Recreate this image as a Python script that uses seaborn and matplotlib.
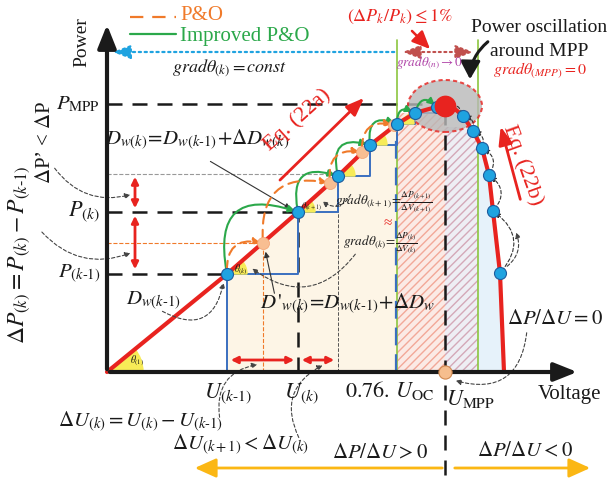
import numpy as np
import pandas as pd
import seaborn as sns
import matplotlib
matplotlib.use("Agg")
import matplotlib.pyplot as plt
from matplotlib.patches import FancyArrowPatch, Ellipse, Wedge

# ---------------- data (diagram units: voltage, power) ----------------
curve_v = [0, 120, 191, 231, 263, 290, 308, 322, 330, 338, 348, 356, 366, 375, 382, 386, 393, 397]
curve_p = [0, 98, 160, 196, 227, 248, 259, 263, 265, 266, 263, 256, 241, 224, 197, 161, 99, 0]
blue_v = [120, 191, 231, 263, 290, 308, 330]
blue_p = [98, 160, 196, 227, 248, 259, 265]
orange_v = [156, 223, 255, 287]
orange_p = [129, 189, 220, 247]
right_v = [356, 366, 375, 382, 386, 393]
right_p = [256, 241, 224, 197, 161, 99]
mpp_v = [338]
mpp_p = [266]
v_076 = 290
v_green2 = 371
x_tick_labels = [r"$U_{(k\text{-}1)}$", r"$U_{(k)}$", r"$\mathit{0.76.}\,U_{\rm OC}$", r"$U_{\rm MPP}$"]

sns.set_theme(style="white")
plt.rcParams["font.family"] = ["Liberation Serif", "DejaVu Serif"]
plt.rcParams["mathtext.fontset"] = "stix"

fig = plt.figure(figsize=(6.11, 4.8), dpi=100)
ax = fig.add_axes([0, 0, 1, 1])
ax.set_xlim(-107, 504)
ax.set_ylim(-108, 372)
ax.axis("off")

def P(px, py):
    return (px - 107, 372 - py)

RED = "#E8231F"
GREEN = "#2BA84A"
ORANGE = "#F07A2A"
BLUE = "#1FA3E0"
SBLUE = "#3A6FBF"

def arr(p1, p2, style="-|>", color="k", lw=1.0, ls="-", rad=0.0, ms=10, z=5, data=False):
    a = p1 if data else P(*p1)
    b = p2 if data else P(*p2)
    ax.add_patch(FancyArrowPatch(a, b, arrowstyle=style, color=color, lw=lw, linestyle=ls,
                                 connectionstyle=f"arc3,rad={rad}", mutation_scale=ms, zorder=z))

def txt(px, py, s, size=15, color="k", ha="center", va="center", rot=0, **kw):
    x, y = P(px, py)
    ax.text(x, y, s, size=size, color=color, ha=ha, va=va, rotation=rot, rotation_mode="anchor", zorder=8, **kw)

cv = np.array(curve_v); cp = np.array(curve_p)
# ---------------- shaded regions ----------------
m = (cv >= blue_v[0]) & (cv <= v_076)
ax.fill_between(cv[m], 0, cp[m], color="#FDF5E6", zorder=0)
ax.fill_between([v_076, mpp_v[0]], 0, 259, facecolor="#FBEAE5", edgecolor="#F2A898", hatch="////", lw=0, zorder=0)
ax.fill_between([mpp_v[0], v_green2], 0, 245, facecolor="#EEEEF4", edgecolor="#D4A8B8", hatch="////", lw=0, zorder=0)
mr = cv >= v_green2
ax.fill_between(np.r_[v_green2, cv[mr]], 0, np.r_[240, cp[mr]], color="#E6F2FA", zorder=0)

# ---------------- guide lines ----------------
dash = dict(color="k", lw=1.8, dashes=(6, 4), zorder=2)
ax.plot([0, blue_v[0]], [blue_p[0]] * 2, **dash)
ax.plot([0, blue_v[1]], [blue_p[1]] * 2, **dash)
ax.plot([0, 330], [mpp_p[0] + 2] * 2, **dash)
ax.plot([blue_v[1]] * 2, [0, blue_p[1]], **dash)
ax.plot([mpp_v[0]] * 2, [-103, mpp_p[0]], **dash)
ax.plot([0, blue_v[2]], [blue_p[2] + 2] * 2, color="#999999", lw=0.8, ls="--", zorder=2)
ax.plot([blue_v[2]] * 2, [0, blue_p[2]], color="#555555", lw=0.7, ls="--", zorder=2)
ax.plot([0, orange_v[0]], [orange_p[0]] * 2, color=ORANGE, lw=0.8, ls="--", zorder=2)
ax.plot([orange_v[0]] * 2, [0, orange_p[0]], color=ORANGE, lw=0.8, ls="--", zorder=2)
ax.plot([v_076] * 2, [0, 332], color="#8CC63F", lw=1.2, zorder=3)
ax.plot([v_green2] * 2, [0, 332], color="#8CC63F", lw=1.2, zorder=3)
ax.plot([v_076 - 1] * 2, [0, 248], color=SBLUE, lw=1.6, dashes=(8, 4), zorder=3)

# staircase
sns.lineplot(x=blue_v, y=blue_p, drawstyle="steps-post", color=SBLUE, lw=1.4, ax=ax, zorder=3, sort=False)
ax.plot([0, blue_v[0], blue_v[0]], [1, 1, blue_p[0]], color=SBLUE, lw=1.4, zorder=3)

# ellipse
ax.add_patch(Ellipse((mpp_v[0], mpp_p[0]), 74, 52, facecolor="#B8B8B8", alpha=0.8,
                     edgecolor=RED, ls=(0, (2, 1.5)), lw=1.5, zorder=4))

# ---------------- PV curve ----------------
sns.lineplot(x=curve_v, y=curve_p, color=RED, lw=3, sort=False, ax=ax, zorder=5)

# yellow angle wedges
ax.add_patch(Wedge((0, 0), 36, 0, 40, color="#F7EB57", zorder=4))
for v, p in zip(blue_v[:5], blue_p[:5]):
    ax.add_patch(Wedge((v, p), 20 if v == blue_v[0] else 17, 0, 40, color="#F7EB57", zorder=4))

# arcs: improved P&O (green) and P&O (orange dashed)
for i in range(len(blue_v) - 1):
    arr((blue_v[i], blue_p[i]), (blue_v[i + 1], blue_p[i + 1]), color=GREEN, lw=1.5, rad=-0.85, ms=10, z=6, data=True)
seq = [(blue_v[0], blue_p[0])] + list(zip(orange_v, orange_p))
for i in range(len(seq) - 1):
    arr(seq[i], seq[i + 1], color=ORANGE, lw=1.5, ls=(0, (5, 3)), rad=-0.65, ms=10, z=6, data=True)
# right side dashed arcs
rs = [(mpp_v[0], mpp_p[0])] + list(zip(right_v, right_p))
for i in range(len(rs) - 1):
    arr(rs[i + 1], rs[i], color="#333333", lw=0.8, ls=(0, (3, 2)), rad=0.55, ms=7, z=6, data=True)

# points
sns.scatterplot(x=orange_v, y=orange_p, s=75, color="#F8BE92", edgecolor="#F4A070", linewidth=0.5, ax=ax, zorder=7)
sns.scatterplot(x=blue_v + right_v, y=blue_p + right_p, s=75, color=BLUE, edgecolor="#1E5C9E", linewidth=0.8, ax=ax, zorder=7)
sns.scatterplot(x=mpp_v, y=mpp_p, s=210, color=RED, edgecolor=RED, ax=ax, zorder=7)
sns.scatterplot(x=mpp_v, y=[0], s=90, color="#F6BE8E", edgecolor="#D08850", linewidth=0.8, ax=ax, zorder=9)

# ---------------- axes ----------------
arr((107, 372), (580, 372), style="-|>,head_length=1.0,head_width=0.4", lw=3, ms=14, z=8)
arr((107, 372), (107, 22), style="-|>,head_length=1.0,head_width=0.4", lw=3, ms=14, z=8)

# ---------------- arrows ----------------
arr((397, 52), (110, 52), style="-|>,head_length=0.9,head_width=0.35", color=BLUE, ls=":", lw=1.6, ms=12)
arr((400, 52), (476, 52), style="<|-|>,head_length=0.9,head_width=0.35", color="#C0504D", ls=":", lw=1.5, ms=12)
arr((410, 29), (432, 51), style="-|>,head_length=0.9,head_width=0.4", color=RED, lw=1.8, ms=12)
arr((135, 174), (135, 211), style="<|-|>", color=RED, lw=2, ms=10)
arr((135, 213), (135, 272), style="<|-|>", color=RED, lw=2, ms=10)
arr((228, 360), (297, 360), style="<|-|>", color=RED, lw=2, ms=10)
arr((299, 360), (337, 360), style="<|-|>", color=RED, lw=2, ms=10)
arr((278, 182), (366, 96), style="-|>,head_length=0.9,head_width=0.35", color=RED, lw=2, ms=12)
arr((521, 202), (500, 124), style="-|>,head_length=0.9,head_width=0.35", color=RED, lw=2, ms=12)
arr((490, 40), (470, 82), style="-|>,head_length=0.9,head_width=0.5", color="k", lw=2.2, rad=0.25, ms=12)
arr((445, 468), (192, 468), style="-|>,head_length=1.0,head_width=0.45", color="#FBB714", lw=2, ms=13)
arr((452, 468), (593, 468), style="-|>,head_length=1.0,head_width=0.45", color="#FBB714", lw=2, ms=13)
# thin pointer arrows
arr((208, 160), (293, 210), color="#333333", lw=0.8, ms=8)
arr((275, 296), (265, 249), color="#333333", lw=0.8, ms=8)
g = dict(color="#444444", lw=0.8, ls=(0, (3, 2)), ms=8)
arr((53, 166), (133, 194), rad=0.35, **g)
arr((40, 230), (133, 252), rad=0.35, **g)
arr((160, 310), (224, 280), rad=0.7, **g)
arr((352, 192), (320, 200), rad=-0.6, **g)
arr((357, 252), (250, 267), rad=-0.5, **g)
arr((220, 420), (260, 364), rad=-0.5, **g)
arr((300, 440), (325, 364), rad=-0.5, **g)
arr((527, 330), (453, 380), rad=-0.6, **g)
arr((505, 268), (515, 230), rad=0.4, **g)

# ---------------- texts ----------------
ax.plot([P(130, 17)[0], P(176, 17)[0]], [P(130, 17)[1]] * 2, color=ORANGE, lw=1.6, dashes=(6, 4))
ax.plot([P(130, 34)[0], P(176, 34)[0]], [P(130, 34)[1]] * 2, color=GREEN, lw=1.6)
txt(180, 16, "P&O", 15, ORANGE, ha="left")
txt(180, 37, "Improved P&O", 15, GREEN, ha="left")
txt(82, 42, "Power", 14, rot=90)
txt(230, 68, r"$grad\theta_{(k)} = const$", 13)
txt(400, 17, r"$(\Delta P_k/P_k) \leq 1\%$", 13, RED)
txt(430, 63, r"$grad\theta_{(n)} \rightarrow 0$", 9.5, "#B044A8")
txt(539, 27, "Power oscillation", 14)
txt(539, 51, "around MPP", 14)
txt(540, 70, r"$grad\theta_{(MPP)} = 0$", 11.5, RED)
txt(100, 104, r"$P_{\rm MPP}$", 15, ha="right")
txt(100, 212, r"$P_{(k)}$", 16, ha="right")
txt(100, 274, r"$P_{(k\text{-}1)}$", 15, ha="right")
txt(46, 142, r"$\Delta$P’ < $\Delta$P", 15, rot=90)
txt(19, 255, r"$\Delta P_{(k)} = P_{(k)} - P_{(k\text{-}1)}$", 17, rot=90)
txt(197, 140, r"$D_{w(k)}\!=\!D_{w(k\text{-}1)}\!+\!\Delta D_{w(k)}$", 15)
txt(153, 301, r"$D_{w(k\text{-}1)}$", 15)
txt(348, 304, r"$D\,'_{w(k)}\!=\!D_{w(k\text{-}1)}\!+\!\Delta D_w$", 15)
txt(297, 120, "Eq. (22a)", 16, RED, rot=42)
txt(523, 165, "Eq. (22b)", 16, RED, rot=-70)
txt(384, 202, r"$grad\theta_{(k+1)}\!=\!\frac{\Delta P_{(k+1)}}{\Delta V_{(k+1)}}$", 9.5)
txt(380, 243, r"$grad\theta_{(k)}\!=\!\frac{\Delta P_{(k)}}{\Delta V_{(k)}}$", 9.5)
txt(388, 224, "≈", 11, RED)
txt(137, 361, r"$\theta_{(1)}$", 7)
txt(241, 270, r"$\theta_{(k)}$", 7)
txt(311, 207, r"$\theta_{(k+1)}$", 6)
for lab, (px, py) in zip(x_tick_labels, [(228, 394), (301, 394), (390, 391), (470, 399)]):
    txt(px, py, lab, 16)
txt(570, 394, "Voltage", 15)
txt(140, 422, r"$\Delta U_{(k)} = U_{(k)} - U_{(k\text{-}1)}$", 15)
txt(240, 445, r"$\Delta U_{(k+1)} < \Delta U_{(k)}$", 15)
txt(380, 454, r"$\Delta P/\Delta U > 0$", 15)
txt(525, 452, r"$\Delta P/\Delta U < 0$", 15)
txt(555, 320, r"$\Delta P/\Delta U = 0$", 15)

fig.savefig("out.png", dpi=100)
